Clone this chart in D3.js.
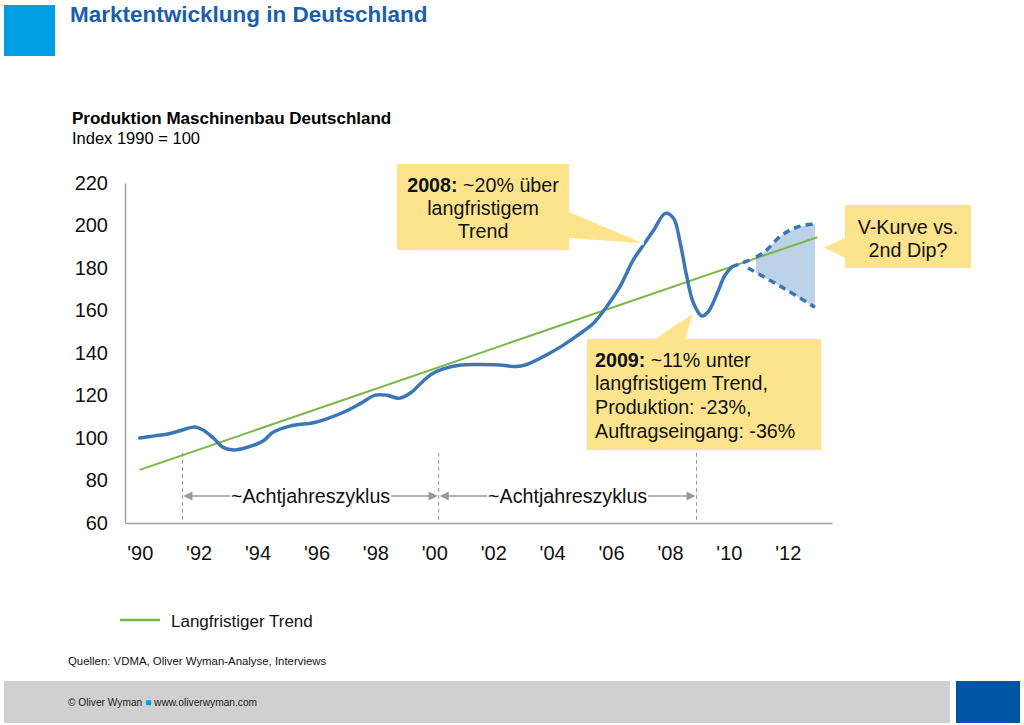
<!DOCTYPE html>
<html><head><meta charset="utf-8">
<script src="https://cdn.jsdelivr.net/npm/d3@7"></script>
<style>
body{margin:0;background:#fff}
svg{display:block;font-family:"Liberation Sans",Arial,Helvetica,sans-serif}
</style>
</head><body>
<svg id="c" width="1024" height="725"></svg>
<script>
// ---- data ----
const prodYears  = [1990, 1990.5, 1991, 1991.5, 1991.87, 1992.15, 1992.5, 1992.83, 1993.2, 1993.6, 1994.2, 1994.5, 1995.1, 1995.9, 1996.3, 1996.9, 1997.5, 1998.0, 1998.4, 1998.8, 1999.2, 1999.6, 1999.9, 2000.3, 2000.9, 2001.5, 2002.2, 2002.8, 2003.1, 2003.7, 2004.3, 2004.8, 2005.4, 2005.85, 2006.3, 2006.75, 2007.1, 2007.45, 2007.84, 2008.12, 2008.35, 2008.57, 2008.8, 2009.08, 2009.3, 2009.6, 2009.87, 2010.1];
const prodValues = [100, 101, 102, 104, 105.2, 103.8, 100, 95.6, 94.4, 95.4, 98.7, 102.5, 105.6, 107.2, 108.8, 112, 116.3, 120.2, 120.1, 118.7, 121.3, 126.5, 130, 132.5, 134.4, 134.6, 134.4, 133.6, 134.4, 138.3, 143, 147.7, 154, 161.8, 171.2, 183.7, 190.8, 197.9, 205.7, 203.4, 191.6, 175.9, 163.4, 157.4, 159.4, 168, 176.7, 180.5];
const bridgeYears  = [2010.1, 2010.85];
const bridgeValues = [180.5, 184.5];
const upperYears  = [2010.92, 2011.2, 2011.8, 2012.35, 2012.92];
const upperValues = [185.2, 187.5, 195.5, 199.4, 200.8];
const lowerYears  = [2010.65, 2011.8, 2012.92];
const lowerValues = [180, 171, 161.5];
const trendYears  = [1990, 2013];
const trendValues = [85, 194.5];
const cycleYears  = [1991.45, 2000.15, 2008.9];
const cycleLabel  = "~Achtjahreszyklus";
const yTicks = [60, 80, 100, 120, 140, 160, 180, 200, 220];
const xTicks = [1990, 1992, 1994, 1996, 1998, 2000, 2002, 2004, 2006, 2008, 2010, 2012];
const xTickLabels = ["'90", "'92", "'94", "'96", "'98", "'00", "'02", "'04", "'06", "'08", "'10", "'12"];

// ---- setup ----
const svg = d3.select("#c");
const x = d3.scaleLinear().domain([1989.5, 2013.5]).range([125, 832]);
const y = d3.scaleLinear().domain([60, 220]).range([523, 183]);
const BLUE = "#3b77b6", GREEN = "#7ab648", CALLOUT = "#fce38c", GREY = "#a0a0a0";
const FS = 19.7;

// header
svg.append("rect").attr("x", 4).attr("y", 5).attr("width", 51).attr("height", 51).attr("fill", "#009fe3");
svg.append("text").attr("x", 70).attr("y", 22).attr("font-size", 22.5).attr("font-weight", "bold")
  .attr("fill", "#1b5eaa").text("Marktentwicklung in Deutschland");
svg.append("text").attr("x", 72).attr("y", 124).attr("font-size", 17).attr("font-weight", "bold")
  .attr("fill", "#000").text("Produktion Maschinenbau Deutschland");
svg.append("text").attr("x", 72).attr("y", 144).attr("font-size", 16.5)
  .attr("fill", "#000").text("Index 1990 = 100");

// axes
const yAxis = d3.axisLeft(y).tickValues(yTicks).tickSize(0).tickPadding(17).tickSizeOuter(0);
const gy = svg.append("g").attr("transform", `translate(${x.range()[0]},0)`).call(yAxis);
const xAxis = d3.axisBottom(x).tickValues(xTicks).tickSize(0).tickPadding(23).tickSizeOuter(0)
  .tickFormat((d, i) => xTickLabels[i]);
const gx = svg.append("g").attr("transform", `translate(0,${y.range()[0]})`).call(xAxis);
[gx, gy].forEach(g => {
  g.select(".domain").attr("stroke", GREY).attr("stroke-width", 1.5);
  g.selectAll("text").attr("font-size", 20).attr("fill", "#111")
   .attr("font-family", '"Liberation Sans",Arial,sans-serif');
});

// cycle markers
cycleYears.forEach(yr => {
  svg.append("line").attr("x1", x(yr)).attr("x2", x(yr)).attr("y1", y(93)).attr("y2", y(61))
    .attr("stroke", "#999").attr("stroke-width", 1).attr("stroke-dasharray", "4,3");
});
const arrowV = 72.7;
function arrowHead(px, py, dir) {
  svg.append("path").attr("d", `M${px},${py} l${-dir*9},-4.5 l0,9 z`).attr("fill", "#999");
}
for (let i = 0; i < cycleYears.length - 1; i++) {
  const x0 = x(cycleYears[i]) + 1, x1 = x(cycleYears[i + 1]) - 1, yy = y(arrowV);
  const t = svg.append("text").attr("x", (x0 + x1) / 2).attr("y", yy + 7).attr("text-anchor", "middle")
    .attr("font-size", FS).attr("fill", "#111").text(cycleLabel);
  const w = t.node().getComputedTextLength();
  const tl = (x0 + x1) / 2 - w / 2 - 1, tr = (x0 + x1) / 2 + w / 2 + 1;
  svg.append("line").attr("x1", x0 + 6).attr("x2", tl).attr("y1", yy).attr("y2", yy).attr("stroke", "#999").attr("stroke-width", 1.5);
  svg.append("line").attr("x1", tr).attr("x2", x1 - 6).attr("y1", yy).attr("y2", yy).attr("stroke", "#999").attr("stroke-width", 1.5);
  arrowHead(x0, yy, -1);
  arrowHead(x1, yy, 1);
}

// forecast shade
const lowerAt = d3.scaleLinear().domain(lowerYears).range(lowerValues);
const shadePts = upperYears.map((d, i) => [d, upperValues[i]])
  .concat(lowerYears.map((d, i) => [d, lowerValues[i]]).filter(p => p[0] > upperYears[0]).reverse())
  .concat([[upperYears[0], lowerAt(upperYears[0])]]);
svg.append("path").attr("d", d3.line().x(p => x(p[0])).y(p => y(p[1]))(shadePts) + "Z")
  .attr("fill", "#bcd2e9");

// trend
svg.append("path").attr("d", d3.line().x(p => x(p[0])).y(p => y(p[1]))(trendYears.map((d, i) => [d, trendValues[i]])))
  .attr("fill", "none").attr("stroke", GREEN).attr("stroke-width", 2);

// production
const lineCR = d3.line().x(p => x(p[0])).y(p => y(p[1])).curve(d3.curveCatmullRom.alpha(0.5));
svg.append("path").attr("d", lineCR(prodYears.map((d, i) => [d, prodValues[i]])))
  .attr("fill", "none").attr("stroke", BLUE).attr("stroke-width", 3.5).attr("stroke-linejoin", "round").attr("stroke-linecap", "round");
[[bridgeYears, bridgeValues], [upperYears, upperValues], [lowerYears, lowerValues]].forEach(([ys, vs]) => {
  svg.append("path").attr("d", lineCR(ys.map((d, i) => [d, vs[i]])))
    .attr("fill", "none").attr("stroke", BLUE).attr("stroke-width", 3.5).attr("stroke-dasharray", "7,5");
});

// callouts
function callout(box, tri) {
  const triD = `M${tri.map(p => p.join(",")).join("L")}Z`;
  svg.append("path").attr("d", triD).attr("fill", CALLOUT).attr("stroke", "#fff").attr("stroke-width", 3).attr("stroke-linejoin", "round");
  svg.append("rect").attr("x", box[0]).attr("y", box[1]).attr("width", box[2]).attr("height", box[3]).attr("fill", CALLOUT);
  svg.append("path").attr("d", triD).attr("fill", CALLOUT);
}
// 2008
callout([397, 164, 172, 86], [[569, 212], [x(2007.07), y(191.6)], [569, 238]]);
const t1 = svg.append("text").attr("font-size", FS).attr("fill", "#111").attr("text-anchor", "middle");
const l1 = t1.append("tspan").attr("x", 483).attr("y", 192);
l1.append("tspan").attr("font-weight", "bold").text("2008:");
l1.append("tspan").text(" ~20% über");
t1.append("tspan").attr("x", 483).attr("y", 215).text("langfristigem");
t1.append("tspan").attr("x", 483).attr("y", 238).text("Trend");
// 2009
callout([587, 339, 234, 111], [[653, 340], [x(2008.77), y(158.4)], [685, 340]]);
const t2 = svg.append("text").attr("font-size", FS).attr("fill", "#111");
const l2 = t2.append("tspan").attr("x", 595).attr("y", 367);
l2.append("tspan").attr("font-weight", "bold").text("2009:");
l2.append("tspan").text(" ~11% unter");
t2.append("tspan").attr("x", 595).attr("y", 390).text("langfristigem Trend,");
t2.append("tspan").attr("x", 595).attr("y", 414).text("Produktion: -23%,");
t2.append("tspan").attr("x", 595).attr("y", 438).text("Auftragseingang: -36%");
// V-Kurve
callout([845, 205, 126, 63], [[845, 238], [x(2013.23), y(189.7)], [845, 258]]);
const t3 = svg.append("text").attr("font-size", FS).attr("fill", "#111").attr("text-anchor", "middle");
t3.append("tspan").attr("x", 908).attr("y", 234).text("V-Kurve vs.");
t3.append("tspan").attr("x", 908).attr("y", 257).text("2nd Dip?");

// legend
svg.append("line").attr("x1", 120).attr("x2", 160).attr("y1", 620).attr("y2", 620).attr("stroke", GREEN).attr("stroke-width", 2.5);
svg.append("text").attr("x", 171).attr("y", 627).attr("font-size", 17).attr("fill", "#111").text("Langfristiger Trend");

// sources
svg.append("text").attr("x", 68).attr("y", 665).attr("font-size", 11.4).attr("fill", "#111")
  .text("Quellen: VDMA, Oliver Wyman-Analyse, Interviews");

// footer
svg.append("rect").attr("x", 4).attr("y", 681).attr("width", 946).attr("height", 42).attr("fill", "#d0d0d0");
svg.append("rect").attr("x", 956).attr("y", 681).attr("width", 64).attr("height", 42).attr("fill", "#0054a6");
const ft = svg.append("text").attr("x", 68).attr("y", 706).attr("font-size", 10.2).attr("fill", "#222");
ft.append("tspan").text("© Oliver Wyman ");
ft.append("tspan").attr("fill", "#009fe3").text("■");
ft.append("tspan").text(" www.oliverwyman.com");
</script>
</body></html>
